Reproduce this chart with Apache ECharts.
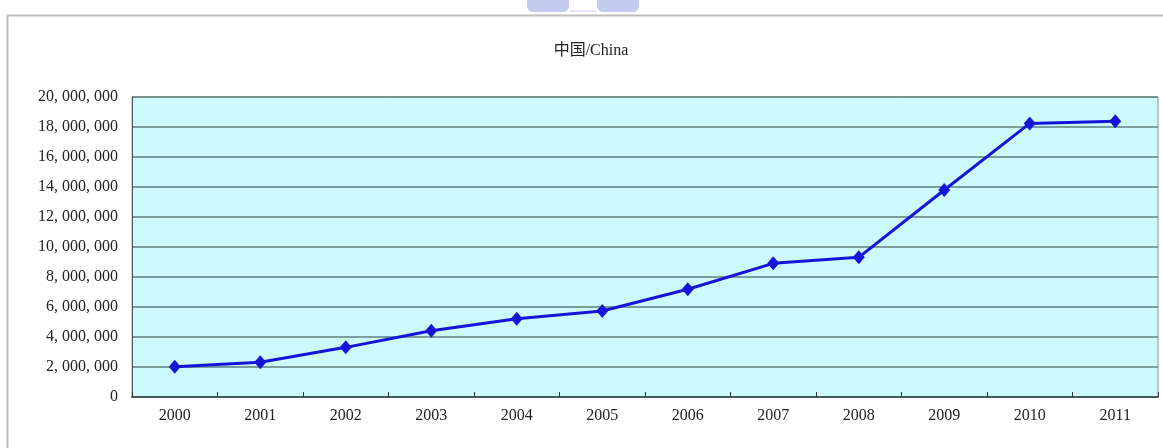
<!DOCTYPE html>
<html>
<head>
<meta charset="utf-8">
<script src="https://cdn.jsdelivr.net/npm/echarts@6/dist/echarts.min.js"></script>
<style>
  html, body { margin: 0; padding: 0; background: #ffffff; }
  #chart { width: 1163px; height: 448px; }
</style>
</head>
<body>
<div id="chart"></div>
<script>
// Annual totals for China, 2000–2011
const years = ['2000', '2001', '2002', '2003', '2004', '2005', '2006', '2007', '2008', '2009', '2010', '2011'];
const values = [2020000, 2310000, 3310000, 4420000, 5220000, 5730000, 7180000, 8910000, 9310000, 13800000, 18240000, 18380000];
const yTicks = [0, 2000000, 4000000, 6000000, 8000000, 10000000, 12000000, 14000000, 16000000, 18000000, 20000000];

const serif = '"Liberation Serif", "DejaVu Serif", "Noto Sans CJK SC", serif';

function fmt(v) {
  // thousands separated by ", "
  return String(v).replace(/\B(?=(\d{3})+(?!\d))/g, ', ');
}

const chart = echarts.init(document.getElementById('chart'));
chart.setOption({
  animation: false,
  backgroundColor: '#ffffff',
  title: {
    text: '中国/China',
    left: 586,
    top: 38,
    textAlign: 'center',
    textStyle: { fontFamily: serif, fontSize: 16, fontWeight: 'normal', color: '#222' }
  },
  graphic: [
    // outer chart frame
    { type: 'rect', shape: { x: 7.5, y: 15.5, width: 1170, height: 450 },
      style: { fill: 'none', stroke: '#bcbcbc', lineWidth: 2 }, silent: true },
    // page header marks above the frame
    { type: 'rect', shape: { x: 527, y: -6, width: 42, height: 18, r: 6 },
      style: { fill: '#c3cbef' }, silent: true },
    { type: 'rect', shape: { x: 597, y: -6, width: 42, height: 18, r: 6 },
      style: { fill: '#c3cbef' }, silent: true },
    { type: 'rect', shape: { x: 569, y: 10, width: 28, height: 2 },
      style: { fill: '#e2e6f6' }, silent: true }
  ],
  grid: {
    left: 132, right: 5, top: 97, bottom: 51,
    show: true,
    backgroundColor: '#ccfafd',
    borderColor: '#8a9a9a',
    borderWidth: 1
  },
  xAxis: {
    type: 'category',
    data: years,
    boundaryGap: true,
    axisLine: { show: true, lineStyle: { color: '#4a5a5a', width: 2 } },
    axisTick: { show: true, inside: true, length: 5, lineStyle: { color: '#333' } },
    axisLabel: { fontFamily: serif, fontSize: 16, color: '#222', margin: 11 },
    splitLine: { show: false }
  },
  yAxis: {
    type: 'value',
    min: 0,
    max: 20000000,
    interval: 2000000,
    axisLine: { show: true, lineStyle: { color: '#4a5a5a', width: 1 } },
    axisTick: { show: false },
    axisLabel: {
      fontFamily: serif, fontSize: 16, color: '#222', margin: 14,
      formatter: function (v) { return yTicks.indexOf(v) >= 0 ? fmt(v) : ''; }
    },
    splitLine: { show: true, lineStyle: { color: '#5f7f7c', width: 1.5 } }
  },
  series: [{
    type: 'line',
    data: values,
    symbol: 'diamond',
    symbolSize: [12, 14],
    lineStyle: { color: '#1515d8', width: 3 },
    itemStyle: { color: '#1515d8' }
  }]
});
</script>
</body>
</html>
